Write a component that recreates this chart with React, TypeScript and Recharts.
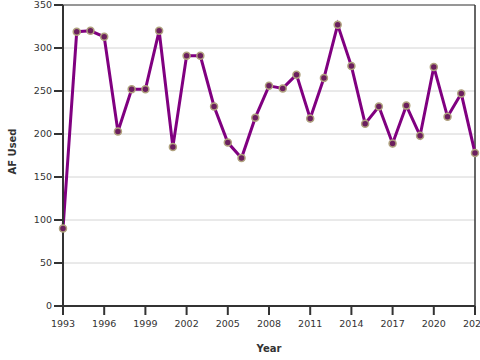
import React from 'react'
import { LineChart, Line, XAxis, YAxis, CartesianGrid, ReferenceLine } from 'recharts'

// Años y acre-pies usados
const years = [
  1993, 1994, 1995, 1996, 1997, 1998, 1999, 2000, 2001, 2002, 2003, 2004, 2005, 2006, 2007, 2008,
  2009, 2010, 2011, 2012, 2013, 2014, 2015, 2016, 2017, 2018, 2019, 2020, 2021, 2022, 2023,
]
const afUsed = [
  90, 319, 320, 313, 203, 252, 252, 320, 185, 291, 291, 232, 190, 172, 219, 256,
  253, 269, 218, 265, 327, 279, 212, 232, 189, 233, 198, 278, 220, 247, 178,
]
const xTicks = [1993, 1996, 1999, 2002, 2005, 2008, 2011, 2014, 2017, 2020, 2023]
const yTicks = [0, 50, 100, 150, 200, 250, 300, 350]

const data = years.map((year, i) => ({ year, af: afUsed[i] }))

const tickStyle = { fill: '#333', fontSize: 9.5, fontFamily: 'DejaVu Sans' }

const YLabel = ({ viewBox }: any) => {
  const x = viewBox.x + 12.5
  const y = viewBox.y + viewBox.height / 2 - 4
  return (
    <text
      x={x}
      y={y}
      transform={`rotate(-90 ${x} ${y})`}
      textAnchor="middle"
      dominantBaseline="central"
      fontFamily="DejaVu Sans"
      fontWeight="bold"
      fontSize={10}
      fill="#333"
    >
      AF Used
    </text>
  )
}

export default function App() {
  return (
    <div style={{ position: 'absolute', left: 0, top: 0, width: 480, height: 360, background: '#fff' }}>
      <LineChart width={480} height={360} data={data} margin={{ top: 5, right: 5, left: 0, bottom: 0 }}>
        <CartesianGrid horizontal vertical={false} stroke="#d4d4d4" />
        <ReferenceLine y={350} stroke="#444" strokeWidth={1} />
        <ReferenceLine x={2023} stroke="#333" strokeWidth={1.5} />
        <XAxis
          dataKey="year"
          type="number"
          domain={[1993, 2023]}
          ticks={xTicks}
          interval={0}
          height={54}
          tickSize={9}
          tickMargin={5}
          stroke="#333"
          strokeWidth={2}
          tick={tickStyle}
          label={{
            value: 'Year',
            position: 'insideBottom',
            offset: 8,
            fill: '#333',
            fontSize: 10,
            fontWeight: 'bold',
            fontFamily: 'DejaVu Sans',
          }}
        />
        <YAxis
          domain={[0, 350]}
          ticks={yTicks}
          interval={0}
          width={63}
          tickSize={9}
          tickMargin={2}
          stroke="#333"
          strokeWidth={2}
          tick={tickStyle}
          label={{ content: YLabel }}
        />
        <Line
          type="linear"
          dataKey="af"
          stroke="#800080"
          strokeWidth={3}
          dot={{ r: 3.5, fill: '#6b1f5e', stroke: '#b0a27e', strokeWidth: 1.5 }}
          isAnimationActive={false}
        />
      </LineChart>
    </div>
  )
}
